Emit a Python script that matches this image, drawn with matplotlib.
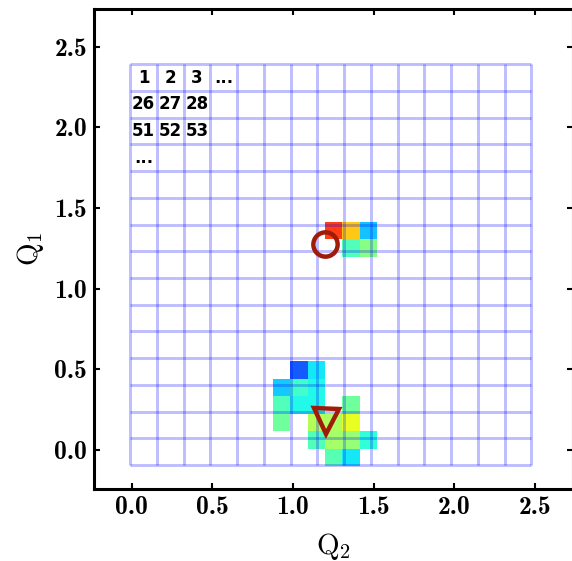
import numpy as np
import matplotlib
matplotlib.use("Agg")
import matplotlib.pyplot as plt

plt.rcParams['mathtext.fontset'] = 'cm'
plt.rcParams['axes.unicode_minus'] = False

# coloured cells of the 23x23 map: column, row (from bottom), jet value
heat_col = [11, 12, 13, 12, 13,
            9, 10,
            8, 9, 10,
            8, 9, 10, 12,
            8, 10, 11, 12,
            10, 11, 12, 13,
            11, 12]
heat_row = [13, 13, 13, 12, 12,
            5, 5,
            4, 4, 4,
            3, 3, 3, 3,
            2, 2, 2, 2,
            1, 1, 1, 1,
            0, 0]
heat_val = [0.86, 0.70, 0.31, 0.43, 0.50,
            0.20, 0.35,
            0.32, 0.41, 0.37,
            0.43, 0.37, 0.37, 0.47,
            0.47, 0.56, 0.55, 0.63,
            0.43, 0.54, 0.52, 0.39,
            0.44, 0.35]
n_heat = 23
heat_x = (0.01, 2.494)
heat_y = (-0.099, 2.385)

# overlay grid (15 x 15) and the numbering in its corner
n_grid = 15
grid_x = (-0.009, 2.477)
grid_y = (-0.093, 2.391)
label_text = ['1', '2', '3', '...', '26', '27', '28', '51', '52', '53', '...']
label_col = [0, 1, 2, 3, 0, 1, 2, 0, 1, 2, 0]
label_row = [0, 0, 0, 0, 1, 1, 1, 2, 2, 2, 3]   # counted from the top

# marked points (Q2, Q1)
circle_pt = (1.198, 1.275)
triangle_pt = (1.205, 0.178)

fig = plt.figure(figsize=(5.72, 5.61), dpi=100)
ax = fig.add_axes([0.1643, 0.1283, 0.8369, 0.8551])

Z = np.full((n_heat, n_heat), np.nan)
for c, r, v in zip(heat_col, heat_row, heat_val):
    Z[r, c] = v
xe = np.linspace(heat_x[0], heat_x[1], n_heat + 1)
ye = np.linspace(heat_y[0], heat_y[1], n_heat + 1)
ax.pcolormesh(xe, ye, np.ma.masked_invalid(Z), cmap='jet', vmin=0, vmax=1,
              alpha=0.92, zorder=1)

gx = np.linspace(grid_x[0], grid_x[1], n_grid + 1)
gy = np.linspace(grid_y[0], grid_y[1], n_grid + 1)
ax.vlines(gx, grid_y[0], grid_y[1], color='blue', alpha=0.26, lw=2.1, zorder=2)
ax.hlines(gy, grid_x[0], grid_x[1], color='blue', alpha=0.26, lw=2.1, zorder=2)

dx = gx[1] - gx[0]
dy = gy[1] - gy[0]
for t, c, r in zip(label_text, label_col, label_row):
    ax.text(gx[0] + (c + 0.5) * dx, gy[-1] - (r + 0.5) * dy, t,
            ha='center', va='center', fontsize=12, fontweight='bold',
            family='DejaVu Sans', zorder=3)

ax.plot(*circle_pt, marker='o', ms=17.5, mfc='none', mec='#a11b0a', mew=3.2,
        ls='none', zorder=4)
ax.plot(*triangle_pt, marker='v', ms=18, mfc='none', mec='#a11b0a', mew=3.2,
        ls='none', zorder=4)

ax.set_xlim(-0.234, 2.734)
ax.set_ylim(-0.242, 2.732)
ax.set_xticks([0.0, 0.5, 1.0, 1.5, 2.0, 2.5])
ax.set_yticks([0.0, 0.5, 1.0, 1.5, 2.0, 2.5])
ax.set_xticklabels(['0.0', '0.5', '1.0', '1.5', '2.0', '2.5'])
ax.set_yticklabels(['0.0', '0.5', '1.0', '1.5', '2.0', '2.5'])
for lab in ax.get_xticklabels() + ax.get_yticklabels():
    lab.set_family('cmb10')
    lab.set_fontsize(18.5)
ax.tick_params(direction='in', top=True, right=True, length=4.5, width=1.5,
               pad=5)
for s in ax.spines.values():
    s.set_linewidth(2.2)

ax.set_xlabel(r'$\mathrm{Q}_2$', fontsize=21, labelpad=9)
ax.set_ylabel(r'$\mathrm{Q}_1$', fontsize=21, labelpad=6)

fig.savefig('out.png', dpi=100)
